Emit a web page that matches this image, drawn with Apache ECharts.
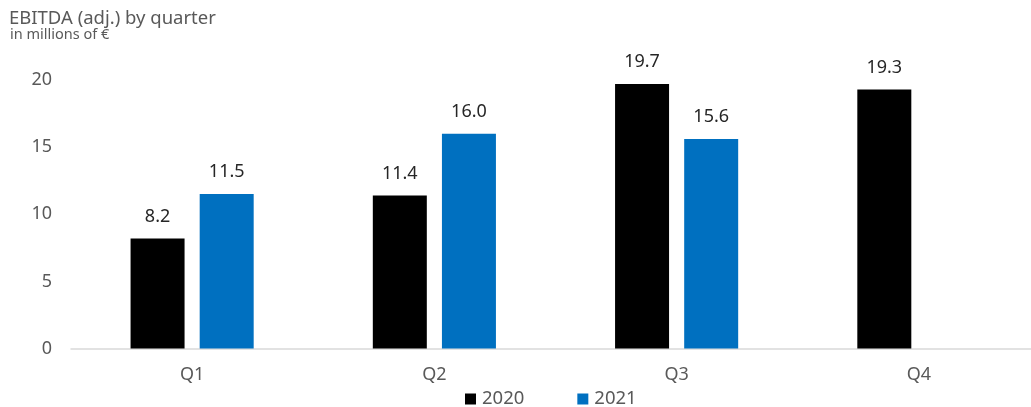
<!DOCTYPE html>
<html>
<head>
<meta charset="utf-8">
<script src="https://cdn.jsdelivr.net/npm/echarts@6/dist/echarts.min.js"></script>
<style>
  html, body { margin: 0; padding: 0; background: #fff; overflow: hidden; }
  /* the source axis runs a little past the right edge of the picture */
  #chart { width: 1040px; height: 407px; }
</style>
</head>
<body>
<div id="chart"></div>
<script>
const quarters = ["Q1", "Q2", "Q3", "Q4"];
const values2020 = [8.2, 11.4, 19.7, 19.3];
const values2021 = [11.5, 16.0, 15.6, null];
const yTicks = [0, 5, 10, 15, 20];

const chart = echarts.init(document.getElementById("chart"), null, { renderer: "canvas" });

// data labels above the bars
const labelStyle = {
  show: true,
  position: "top",
  distance: 13,
  color: "#262626",
  fontSize: 18,
  fontFamily: "Noto Sans",
  formatter: (p) => p.value.toFixed(1),
};

const option = {
  animation: false,
  title: [
    {
      text: "EBITDA (adj.) by quarter",
      left: 9,
      top: 9,
      padding: 0,
      textStyle: { color: "#595959", fontSize: 18.5, fontWeight: "normal", fontFamily: "Noto Sans" },
    },
    {
      text: "in millions of €",
      left: 10,
      top: 27,
      padding: 0,
      textStyle: { color: "#595959", fontSize: 14.5, fontWeight: "normal", fontFamily: "Noto Sans" },
    },
  ],
  legend: {
    data: ["2020", "2021"],
    left: 465,
    top: 389,
    padding: 0,
    itemWidth: 11,
    itemHeight: 11,
    itemGap: 53,
    icon: "rect",
    textStyle: { color: "#595959", fontSize: 18.5, fontFamily: "Noto Sans", lineHeight: 20, padding: [0, 0, 0, 1] },
  },
  grid: { left: 71, right: 0, top: 80, bottom: 58.5 },
  xAxis: {
    type: "category",
    data: quarters,
    axisLine: { lineStyle: { color: "#d9d9d9", width: 1.5 } },
    axisTick: { show: false },
    axisLabel: { color: "#595959", fontSize: 18, fontFamily: "Noto Sans", margin: 17 },
  },
  yAxis: {
    type: "value",
    min: yTicks[0],
    max: yTicks[yTicks.length - 1],
    interval: 5,
    axisLine: { show: false },
    axisTick: { show: false },
    splitLine: { show: false },
    axisLabel: { color: "#595959", fontSize: 18, fontFamily: "Noto Sans", margin: 19 },
  },
  series: [
    {
      name: "2020",
      type: "bar",
      data: values2020,
      barWidth: 54,
      barGap: "28%",
      itemStyle: { color: "#000000" },
      label: labelStyle,
    },
    {
      name: "2021",
      type: "bar",
      data: values2021,
      barWidth: 54,
      itemStyle: { color: "#0070c0" },
      label: labelStyle,
    },
  ],
};

chart.setOption(option);
</script>
</body>
</html>
